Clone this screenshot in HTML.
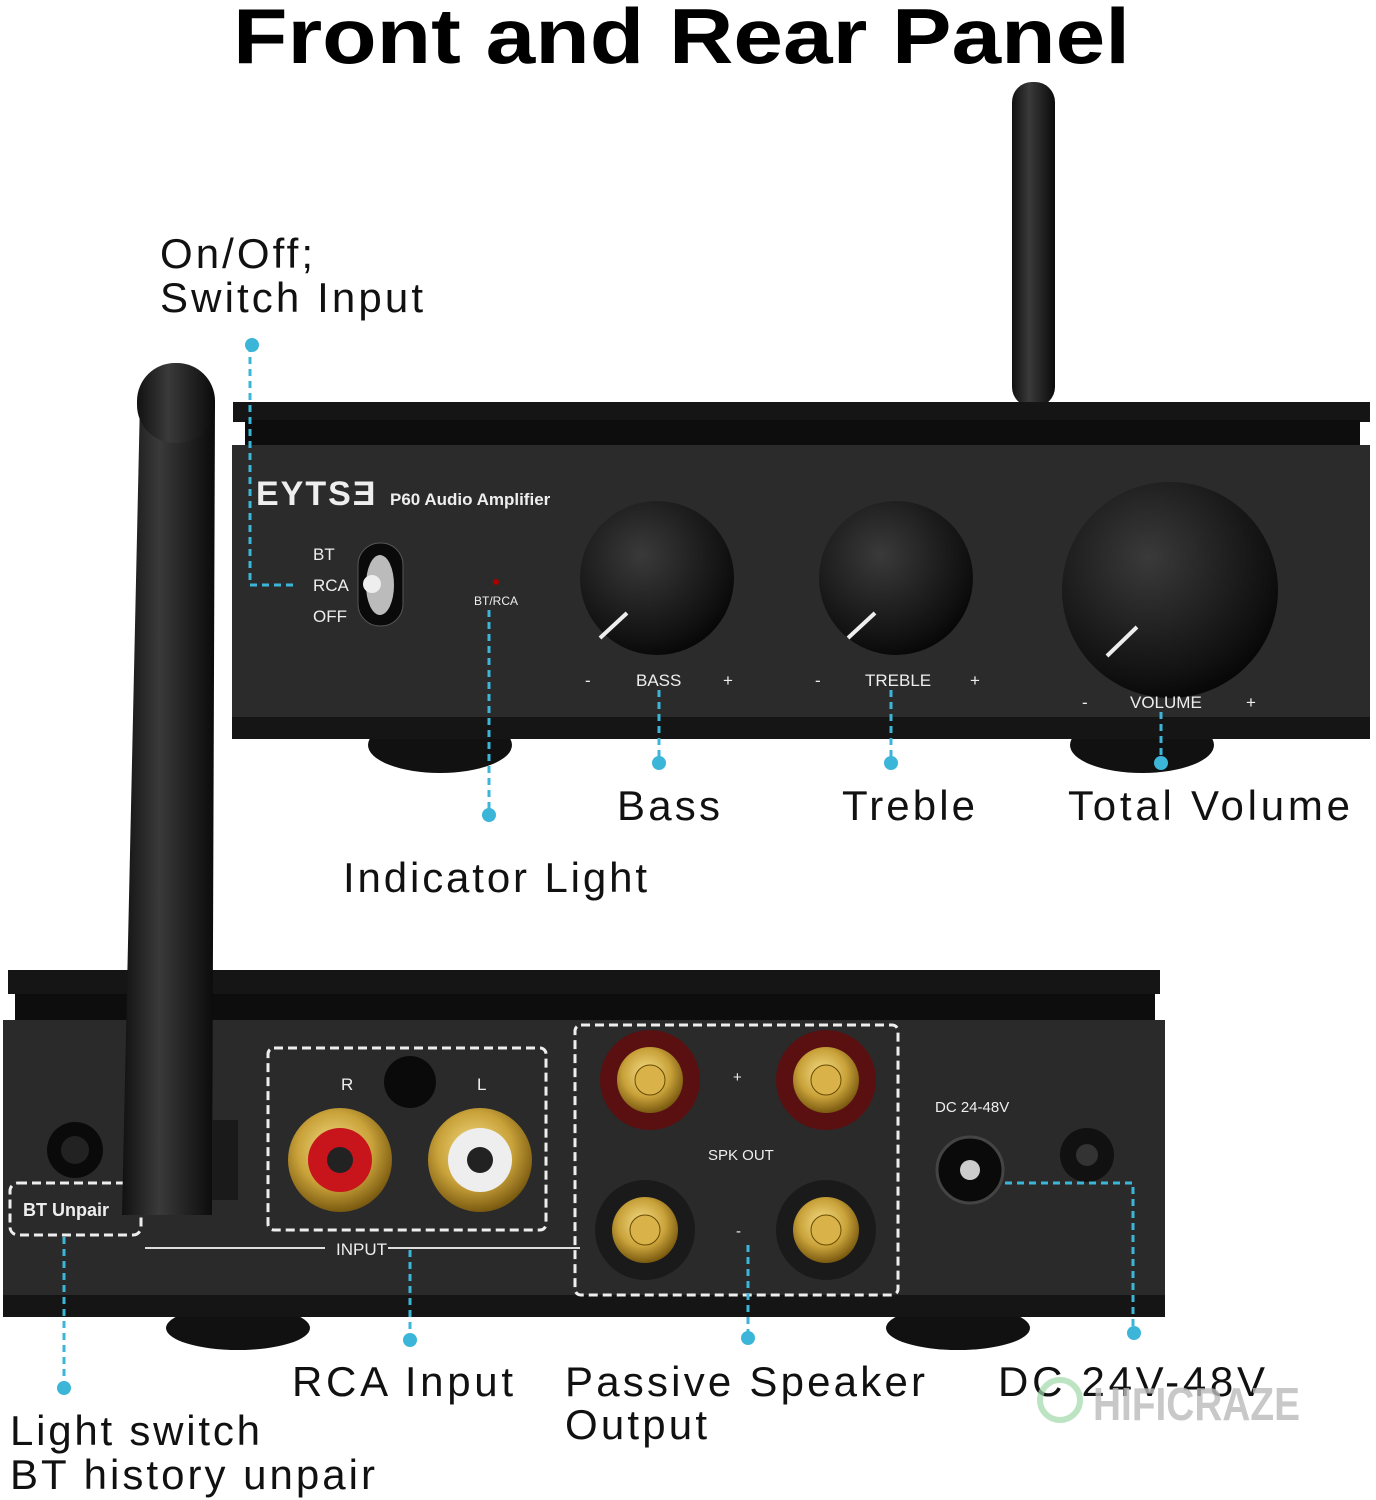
<!DOCTYPE html>
<html><head><meta charset="utf-8"><style>
html,body{margin:0;padding:0;background:#fff;width:1376px;height:1500px;overflow:hidden}
svg{display:block}
</style></head><body>
<svg width="1376" height="1500" viewBox="0 0 1376 1500" xmlns="http://www.w3.org/2000/svg" font-family="Liberation Sans, sans-serif">
<defs>
<radialGradient id="knob" cx="40%" cy="35%" r="70%"><stop offset="0" stop-color="#3a3a3a"/><stop offset="0.8" stop-color="#111"/><stop offset="1" stop-color="#050505"/></radialGradient>
<radialGradient id="gold" cx="45%" cy="40%" r="60%"><stop offset="0" stop-color="#f5e08a"/><stop offset="0.6" stop-color="#c9a23a"/><stop offset="1" stop-color="#7a5a10"/></radialGradient>
<linearGradient id="ant" x1="0" x2="1"><stop offset="0" stop-color="#111"/><stop offset="0.4" stop-color="#3a3a3a"/><stop offset="1" stop-color="#0a0a0a"/></linearGradient>
</defs>
<text x="233" y="63" textLength="897" lengthAdjust="spacingAndGlyphs" font-size="78" font-weight="bold" fill="#000">Front and Rear Panel</text>

<rect x="1012" y="82" width="43" height="325" rx="20" fill="url(#ant)"/>
<ellipse cx="440" cy="745" rx="72" ry="28" fill="#111"/>
<ellipse cx="1142" cy="745" rx="72" ry="28" fill="#111"/>
<rect x="233" y="402" width="1137" height="20" fill="#151515"/>
<rect x="245" y="420" width="1115" height="25" fill="#0d0d0d"/>
<rect x="232" y="445" width="1138" height="272" fill="#2b2b2b"/>
<rect x="232" y="717" width="1138" height="22" fill="#151515"/>
<text x="256" y="505" font-size="34" font-weight="bold" fill="#eee" letter-spacing="2">EYTSƎ</text>
<text x="390" y="505" font-size="17" font-weight="bold" fill="#eee">P60 Audio Amplifier</text>
<text x="313" y="560" font-size="17" fill="#eee">BT</text>
<text x="313" y="591" font-size="17" fill="#eee">RCA</text>
<text x="313" y="622" font-size="17" fill="#eee">OFF</text>
<rect x="358" y="543" width="45" height="83" rx="22" fill="#0a0a0a" stroke="#555"/>
<ellipse cx="380" cy="585" rx="14" ry="30" fill="#bbb"/>
<circle cx="372" cy="584" r="9" fill="#eee"/>
<circle cx="496" cy="582" r="3" fill="#a00"/>
<text x="496" y="605" font-size="12" text-anchor="middle" fill="#eee">BT/RCA</text>
<circle cx="657" cy="578" r="77" fill="url(#knob)"/>
<line x1="600" y1="638" x2="627" y2="613" stroke="#eee" stroke-width="4"/>
<circle cx="896" cy="578" r="77" fill="url(#knob)"/>
<line x1="848" y1="638" x2="875" y2="613" stroke="#eee" stroke-width="4"/>
<circle cx="1170" cy="590" r="108" fill="url(#knob)"/>
<line x1="1107" y1="656" x2="1137" y2="627" stroke="#eee" stroke-width="4"/>
<g font-size="17" fill="#eee">
<text x="585" y="686">-</text><text x="636" y="686">BASS</text><text x="723" y="686">+</text>
<text x="815" y="686">-</text><text x="865" y="686">TREBLE</text><text x="970" y="686">+</text>
<text x="1082" y="708">-</text><text x="1130" y="708">VOLUME</text><text x="1246" y="708">+</text>
</g>

<ellipse cx="238" cy="1328" rx="72" ry="22" fill="#111"/>
<ellipse cx="958" cy="1328" rx="72" ry="22" fill="#111"/>
<rect x="8" y="970" width="1152" height="24" fill="#151515"/>
<rect x="15" y="994" width="1140" height="26" fill="#0d0d0d"/>
<rect x="3" y="1020" width="1162" height="275" fill="#2a2a2a"/>
<rect x="3" y="1295" width="1162" height="22" fill="#151515"/>
<circle cx="75" cy="1150" r="28" fill="#0a0a0a"/>
<circle cx="75" cy="1150" r="14" fill="#222"/>
<rect x="10" y="1183" width="131" height="52" rx="8" fill="none" stroke="#eee" stroke-width="3" stroke-dasharray="9 5"/>
<text x="23" y="1216" font-size="18" font-weight="bold" fill="#eee">BT Unpair</text>
<rect x="268" y="1048" width="278" height="182" rx="6" fill="none" stroke="#eee" stroke-width="3" stroke-dasharray="9 5"/>
<text x="341" y="1090" font-size="17" fill="#eee">R</text><text x="477" y="1090" font-size="17" fill="#eee">L</text>
<circle cx="410" cy="1082" r="26" fill="#0a0a0a"/>
<circle cx="340" cy="1160" r="52" fill="url(#gold)"/><circle cx="340" cy="1160" r="32" fill="#c8151b"/><circle cx="340" cy="1160" r="13" fill="#222"/>
<circle cx="480" cy="1160" r="52" fill="url(#gold)"/><circle cx="480" cy="1160" r="32" fill="#eee"/><circle cx="480" cy="1160" r="13" fill="#222"/>
<line x1="145" y1="1248" x2="325" y2="1248" stroke="#ddd" stroke-width="2"/>
<line x1="388" y1="1248" x2="580" y2="1248" stroke="#ddd" stroke-width="2"/>
<text x="336" y="1255" font-size="17" fill="#eee">INPUT</text>
<rect x="575" y="1025" width="323" height="270" rx="6" fill="none" stroke="#eee" stroke-width="3" stroke-dasharray="9 5"/>
<g>
<circle cx="650" cy="1080" r="50" fill="#5a1010"/><circle cx="650" cy="1080" r="33" fill="url(#gold)"/><circle cx="650" cy="1080" r="15" fill="#d9b24a" stroke="#6a4a00"/>
<circle cx="826" cy="1080" r="50" fill="#5a1010"/><circle cx="826" cy="1080" r="33" fill="url(#gold)"/><circle cx="826" cy="1080" r="15" fill="#d9b24a" stroke="#6a4a00"/>
<circle cx="645" cy="1230" r="50" fill="#1a1a1a"/><circle cx="645" cy="1230" r="33" fill="url(#gold)"/><circle cx="645" cy="1230" r="15" fill="#d9b24a" stroke="#6a4a00"/>
<circle cx="826" cy="1230" r="50" fill="#1a1a1a"/><circle cx="826" cy="1230" r="33" fill="url(#gold)"/><circle cx="826" cy="1230" r="15" fill="#d9b24a" stroke="#6a4a00"/>
</g>
<text x="733" y="1082" font-size="15" fill="#eee">+</text>
<text x="708" y="1160" font-size="15" fill="#eee">SPK OUT</text>
<text x="736" y="1236" font-size="15" fill="#eee">-</text>
<text x="935" y="1112" font-size="15" fill="#eee">DC 24-48V</text>
<circle cx="970" cy="1170" r="33" fill="#0a0a0a" stroke="#444" stroke-width="3"/><circle cx="970" cy="1170" r="10" fill="#ccc"/>
<circle cx="1087" cy="1155" r="27" fill="#111"/><circle cx="1087" cy="1155" r="11" fill="#333"/>

<polygon points="140,400 215,400 212,1215 122,1215" fill="url(#ant)"/>
<rect x="137" y="363" width="78" height="80" rx="38" fill="url(#ant)"/>
<rect x="212" y="1120" width="26" height="80" fill="#1a1a1a"/>

<g stroke="#3cb6d8" stroke-width="3" stroke-dasharray="7 5" fill="none">
<polyline points="250,345 250,585 295,585"/>
<line x1="489" y1="610" x2="489" y2="815"/>
<line x1="659" y1="690" x2="659" y2="762"/>
<line x1="891" y1="690" x2="891" y2="762"/>
<line x1="1161" y1="712" x2="1161" y2="762"/>
<line x1="64" y1="1237" x2="64" y2="1388"/>
<line x1="410" y1="1250" x2="410" y2="1340"/>
<line x1="748" y1="1245" x2="748" y2="1338"/>
<polyline points="1005,1183 1133,1183 1133,1333"/>
</g>
<g fill="#3cb6d8">
<circle cx="252" cy="345" r="7"/><circle cx="489" cy="815" r="7"/><circle cx="659" cy="763" r="7"/>
<circle cx="891" cy="763" r="7"/><circle cx="1161" cy="763" r="7"/><circle cx="64" cy="1388" r="7"/>
<circle cx="410" cy="1340" r="7"/><circle cx="748" cy="1338" r="7"/><circle cx="1134" cy="1333" r="7"/>
</g>

<g font-size="42" fill="#111" lengthAdjust="spacing">
<text x="160" y="268" textLength="153">On/Off;</text>
<text x="160" y="312" textLength="263">Switch Input</text>
<text x="617" y="820" textLength="103">Bass</text>
<text x="842" y="820" textLength="133">Treble</text>
<text x="1068" y="820" textLength="282">Total Volume</text>
<text x="343" y="892" textLength="304">Indicator Light</text>
<text x="292" y="1396" textLength="221">RCA Input</text>
<text x="565" y="1396" textLength="360">Passive Speaker</text>
<text x="565" y="1439" textLength="142">Output</text>
<text x="998" y="1396" textLength="267">DC 24V-48V</text>
<text x="10" y="1445" textLength="250">Light switch</text>
<text x="10" y="1489" textLength="365">BT history unpair</text>
</g>
<circle cx="1060" cy="1400" r="20" fill="none" stroke="#9fd8a8" stroke-width="6" opacity="0.7"/>
<text x="1093" y="1420" font-size="46" font-weight="bold" fill="#bbb" opacity="0.8" textLength="207" lengthAdjust="spacingAndGlyphs">HIFICRAZE</text>
</svg>
</body></html>
